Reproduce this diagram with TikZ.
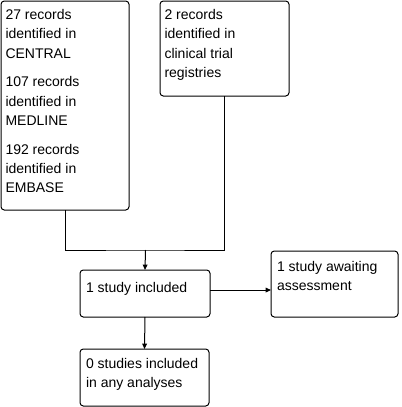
\documentclass[tikz,border=0pt]{standalone}
\usepackage{fontspec}
\setmainfont{Liberation Sans}
\usetikzlibrary{arrows.meta}
\tikzset{
  box/.style={draw=black, line width=0.75pt, rounded corners=2.5pt, fill=white,
    anchor=north west, inner sep=0pt, outer sep=0pt},
  txt/.style={anchor=base west, inner sep=0pt, outer sep=0pt,
    font=\fontsize{10.5pt}{14.5pt}\selectfont},
  conn/.style={draw=black, line width=0.75pt},
  arr/.style={conn, -{Triangle[length=4pt,width=3.5pt]}}
}
\begin{document}
\begin{tikzpicture}[x=0.75pt,y=-0.75pt]
\useasboundingbox[fill=white] (0,0) rectangle (401,407);
% boxes
\node[box, minimum width=96pt, minimum height=156.75pt] (b1) at (1,1) {};
\node[box, minimum width=96.75pt, minimum height=71.25pt] (b2) at (160,1) {};
\node[box, minimum width=97.5pt, minimum height=35.25pt] (b3) at (80,270) {};
\node[box, minimum width=95.25pt, minimum height=49.5pt] (b4) at (271,251) {};
\node[box, minimum width=96.75pt, minimum height=42.75pt] (b5) at (80,349) {};
% texts
\node[txt] (t1) at (5.5,19.5) {\vtop{\baselineskip=14.5pt
  \hbox{27 records}\hbox{identified in}\hbox{CENTRAL}\vskip 7pt
  \hbox{107 records}\hbox{identified in}\hbox{MEDLINE}\vskip 7pt
  \hbox{192 records}\hbox{identified in}\hbox{EMBASE}}};
\node[txt] (t2) at (164.5,19.5) {\vtop{\baselineskip=14.5pt
  \hbox{2 records}\hbox{identified in}\hbox{clinical trial}\hbox{registries}}};
\node[txt] (t3) at (86,292.5) {1 study included};
\node[txt] (t4) at (277,271.5) {\vtop{\baselineskip=14.5pt
  \hbox{1 study awaiting}\hbox{assessment}}};
\node[txt] (t5) at (86,368.5) {\vtop{\baselineskip=14.5pt
  \hbox{0 studies included}\hbox{in any analyses}}};
% connectors
\coordinate (j) at (145.5,250);
\draw[conn] (b1.south) |- (j) -| (b2.south);
\draw[arr] (j) -- (b3.north);
\draw[arr] ([yshift=2.6pt]b3.east) -- ([yshift=2.6pt]b3.east -| b4.west);
\draw[arr] (b3.south) -- (b5.north);
\end{tikzpicture}
\end{document}
